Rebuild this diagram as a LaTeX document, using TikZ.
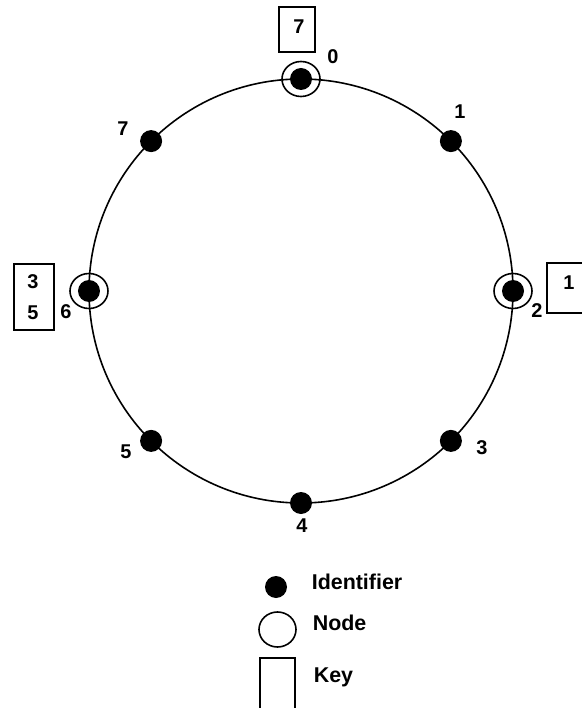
\documentclass[tikz,border=0pt]{standalone}
\usepackage{fontspec}
\setmainfont{Liberation Sans}
\usetikzlibrary{shapes.geometric}
\begin{document}
\begin{tikzpicture}[x=1bp,y=1bp,line width=1.6bp,
    ident/.style={circle,fill=black,inner sep=0pt,minimum size=22bp},
    ring/.style={ellipse,draw,inner sep=0pt,minimum width=38bp,minimum height=35bp},
    num/.style={inner sep=0pt,font=\bfseries\fontsize{20}{21}\selectfont},
    legend/.style={inner sep=0pt,anchor=west,font=\bfseries\fontsize{21.5}{22}\selectfont}]
    \useasboundingbox (-301,-417) rectangle (281,291);
    \clip (-301,-417) rectangle (281,291);
    \coordinate (c) at (0,0);
    \draw (c) circle (212);
    % identifiers on the ring
    \node[ident] (i0) at (90:212) {};
    \node[ident] (i1) at (45:212) {};
    \node[ident] (i2) at (0:212) {};
    \node[ident] (i3) at (-45:212) {};
    \node[ident] (i4) at (-90:212) {};
    \node[ident] (i5) at (-135:212) {};
    \node[ident] (i6) at (180:212) {};
    \node[ident] (i7) at (135:212) {};
    \node[num] (l0) at (32,234) {0};
    \node[num] (l1) at (159,179) {1};
    \node[num] (l2) at (236,-20) {2};
    \node[num] (l3) at (181,-157) {3};
    \node[num] (l4) at (1,-235) {4};
    \node[num] (l5) at (-175,-161) {5};
    \node[num] (l6) at (-235,-21) {6};
    \node[num] (l7) at (-178,162) {7};
    % nodes
    \node[ring] (n0) at (i0) {};
    \node[ring] (n2) at (i2) {};
    \node[ring] (n6) at (i6) {};
    % keys
    \draw (-22,284) rectangle (14,239);
    \node[num] (k7) at (-2,264) {7};
    \draw (246,28) rectangle (290,-22);
    \node[num] (k1) at (268,8) {1};
    \draw (-287,27) rectangle (-247,-39);
    \node[num] (k3) at (-268,9) {3};
    \node[num] (k5) at (-268,-22) {5};
    % legend
    \node[ident] (di) at (-25,-296) {};
    \node[legend] (ti) at (10,-291) {Identifier};
    \node[ring,minimum width=37bp] (dn) at (-23.5,-338.5) {};
    \node[legend] (tn) at (11,-332) {Node};
    \draw (-41,-425) rectangle (-6,-367);
    \node[legend] (tk) at (12,-386) {Key};
\end{tikzpicture}
\end{document}
